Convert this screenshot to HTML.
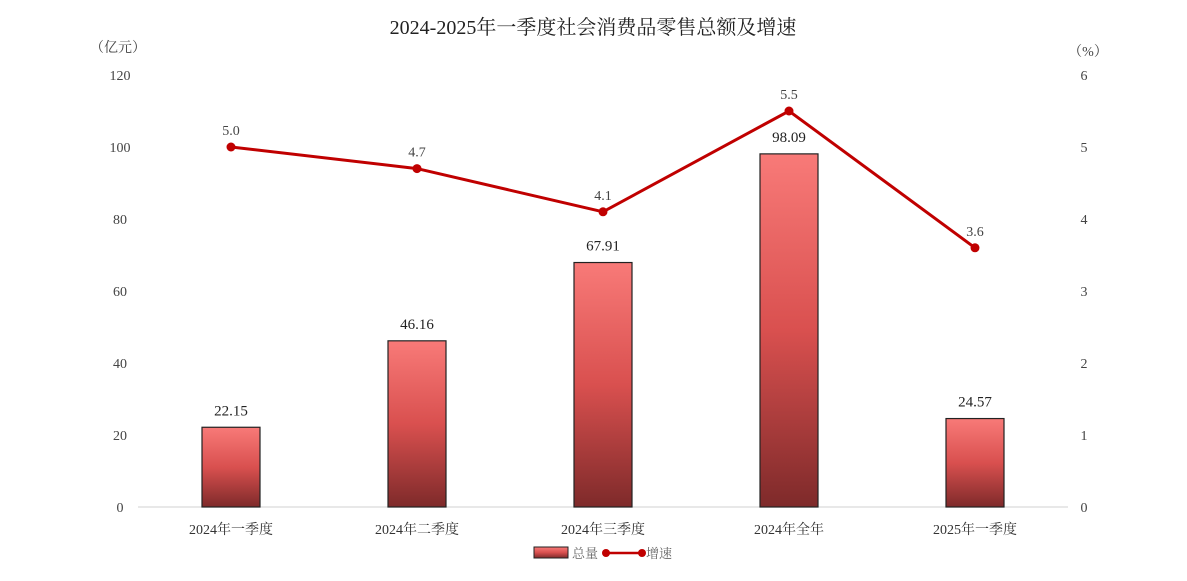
<!DOCTYPE html>
<html><head><meta charset="utf-8"><style>
body{margin:0;background:#fff;}
svg text{font-family:"Liberation Serif","Noto Serif CJK SC",serif;}
</style></head><body>
<svg id="chart" width="1187" height="576" xmlns="http://www.w3.org/2000/svg">
<defs>
<linearGradient id="bg" x1="0" y1="0" x2="0" y2="1">
<stop offset="0" stop-color="#f87a78"/><stop offset="0.5" stop-color="#d9504f"/><stop offset="1" stop-color="#7e2a2a"/>
</linearGradient>
</defs>
<text x="593" y="34" text-anchor="middle" font-size="20" fill="#222">2024-2025年一季度社会消费品零售总额及增速</text>
<text x="118" y="52" text-anchor="middle" font-size="14" fill="#444">（亿元）</text>
<text x="1088" y="56" text-anchor="middle" font-size="14" fill="#444">（%）</text>
<g id="plot"></g>
<g>
<rect x="534" y="547" width="34" height="11" fill="url(#bg)" stroke="#222" stroke-width="1"/>
<text x="572" y="558" font-size="13" fill="#666">总量</text>
<line x1="606" y1="553" x2="642" y2="553" stroke="#c00000" stroke-width="2.5"/>
<circle cx="606" cy="553" r="4" fill="#c00000"/><circle cx="642" cy="553" r="4" fill="#c00000"/>
<text x="646" y="558" font-size="13" fill="#666">增速</text>
</g>
</svg>
<script>
const categories=["2024年一季度","2024年二季度","2024年三季度","2024年全年","2025年一季度"];
const totals=[22.15,46.16,67.91,98.09,24.57];
const growth=[5.0,4.7,4.1,5.5,3.6];
const leftTicks=[0,20,40,60,80,100,120];
const rightTicks=[0,1,2,3,4,5,6];
const NS="http://www.w3.org/2000/svg";
const g=document.getElementById('plot');
const y0=507,yTop=75,x0=138,x1=1068;
const yL=v=>y0-(v/120)*(y0-yTop);
const yR=v=>y0-(v/6)*(y0-yTop);
const step=(x1-x0)/categories.length;
const xC=i=>x0+step*(i+0.5);
function mk(t,a){const e=document.createElementNS(NS,t);for(const k in a)e.setAttribute(k,a[k]);g.appendChild(e);return e;}
leftTicks.forEach(v=>{const t=mk('text',{x:120,y:yL(v)+5,'text-anchor':'middle','font-size':14,fill:'#444'});t.textContent=v;

});
rightTicks.forEach(v=>{const t=mk('text',{x:1084,y:yR(v)+5,'text-anchor':'middle','font-size':14,fill:'#444'});t.textContent=v;

});
const ax=mk('line',{x1:x0,y1:y0,x2:x1,y2:y0,stroke:'#d0d0d0','stroke-width':1});


const bw=58;
totals.forEach((v,i)=>{const r=mk('rect',{x:xC(i)-bw/2,y:yL(v),width:bw,height:y0-yL(v),fill:'url(#bg)',stroke:'#222','stroke-width':1.2});


const t=mk('text',{x:xC(i),y:yL(v)-12,'text-anchor':'middle','font-size':15,fill:'#222'});t.textContent=v.toFixed(2);


const c=mk('text',{x:xC(i),y:534,'text-anchor':'middle','font-size':14,fill:'#333'});c.textContent=categories[i];

});
const pl=mk('polyline',{points:growth.map((v,i)=>xC(i)+','+yR(v)).join(' '),fill:'none',stroke:'#c00000','stroke-width':3});


growth.forEach((v,i)=>{const c=mk('circle',{cx:xC(i),cy:yR(v),r:4.5,fill:'#c00000'});


const t=mk('text',{x:xC(i),y:yR(v)-12,'text-anchor':'middle','font-size':14,fill:'#444'});t.textContent=v.toFixed(1);

});
</script>
</body></html>
